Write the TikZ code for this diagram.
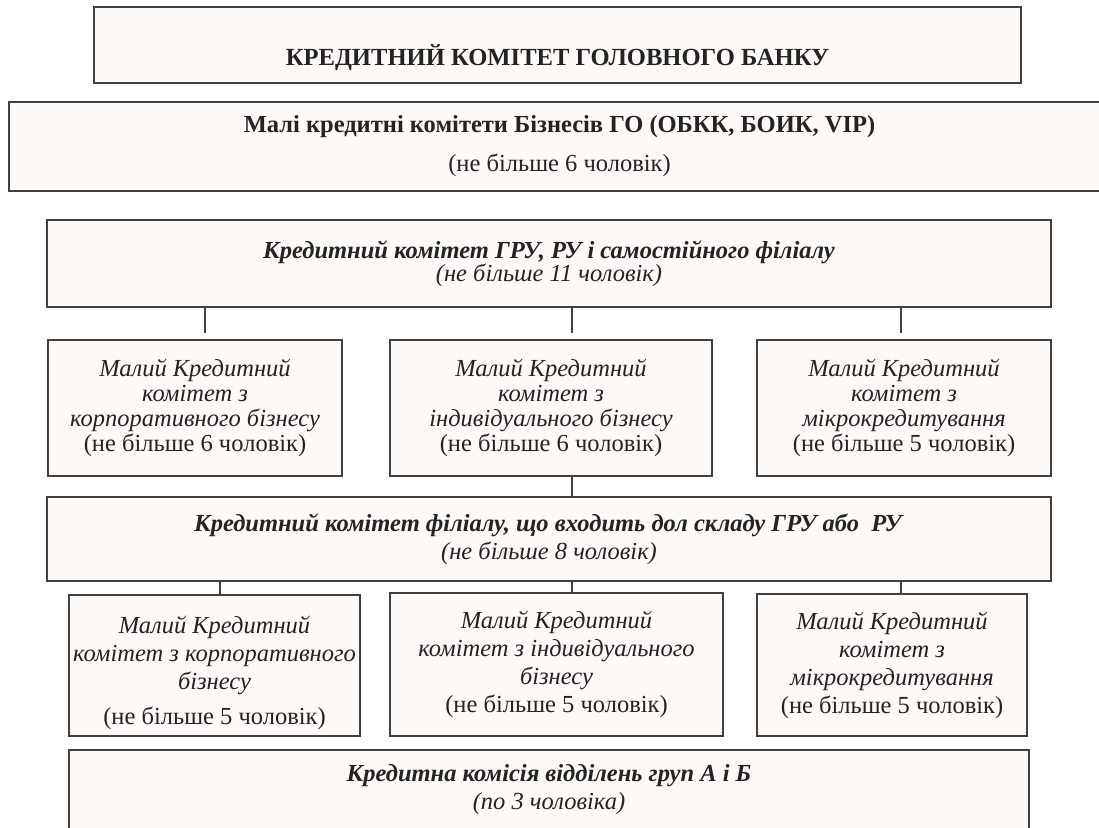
\documentclass[tikz,border=0pt]{standalone}
\usepackage{fontspec}
\setmainfont{Liberation Serif}
\usetikzlibrary{positioning}
\definecolor{boxfill}{RGB}{252,249,246}
\definecolor{edge}{RGB}{64,64,64}
\definecolor{ink}{RGB}{35,35,35}

\begin{document}
\begin{tikzpicture}[
  x=1pt, y=-1pt,
  box/.style={rectangle,draw=edge,fill=boxfill,line width=1.8pt,inner sep=0pt,
    align=center,text=ink,font=\fontsize{24.5}{28}\selectfont},
  txt/.style={align=center,text=ink,inner sep=0pt,font=\fontsize{24.5}{28}\selectfont},
  link/.style={draw=edge,line width=1.8pt}
]
  \useasboundingbox (0,0) rectangle (1099,827);
  \clip (0,0) rectangle (1099,827);

  % Head bank level
  \node[box,minimum width=927pt,minimum height=76pt] (bank) at (557.5,45) {};
  \node[txt,font=\fontsize{24.6}{28}\selectfont\bfseries] (bank-t) at (557.5,58)
    {КРЕДИТНИЙ КОМІТЕТ ГОЛОВНОГО БАНКУ};
  \node[box,minimum width=1101pt,minimum height=89pt] (go) at (559.5,146.5)
    {\textbf{Малі кредитні комітети Бізнесів ГО (ОБКК, БОИК, VIP)}\\[11pt](не більше 6 чоловік)};

  % Regional level
  \node[box,minimum width=1004pt,minimum height=87pt] (gru) at (549,263.5)
    {\textbf{\textit{Кредитний комітет ГРУ, РУ і самостійного філіалу}}\\[-5pt]\textit{(не більше 11 чоловік)}};
  \node[box,minimum width=294pt,minimum height=136pt] (mkA) at (195,408)
    {\textit{Малий Кредитний}\\[-3pt]\textit{комітет з}\\[-3pt]\textit{корпоративного бізнесу}\\[-3pt](не більше 6 чоловік)};
  \node[box,minimum width=322pt,minimum height=136pt] (mkB) at (551,408)
    {\textit{Малий Кредитний}\\[-3pt]\textit{комітет з}\\[-3pt]\textit{індивідуального бізнесу}\\[-3pt](не більше 6 чоловік)};
  \node[box,minimum width=294pt,minimum height=136pt] (mkC) at (904,408)
    {\textit{Малий Кредитний}\\[-3pt]\textit{комітет з}\\[-3pt]\textit{мікрокредитування}\\[-3pt](не більше 5 чоловік)};

  % Branch level
  \node[box,minimum width=1004pt,minimum height=84pt] (fil) at (549,539)
    {\textbf{\textit{Кредитний комітет філіалу, що входить дол складу ГРУ або\ \ РУ}}\\\textit{(не більше 8 чоловік)}};
  \node[box,minimum width=291pt,minimum height=141pt] (mkD) at (214.5,665.5) {};
  \node[txt] (mkD-t) at (214.5,673)
    {\textit{Малий Кредитний}\\\textit{комітет з корпоративного}\\\textit{бізнесу}\\[7pt](не більше 5 чоловік)};
  \node[box,minimum width=333pt,minimum height=143pt] (mkE) at (556.5,664.5)
    {\textit{Малий Кредитний}\\\textit{комітет з індивідуального}\\\textit{бізнесу}\\(не більше 5 чоловік)};
  \node[box,minimum width=270pt,minimum height=142pt] (mkF) at (892,665)
    {\textit{Малий Кредитний}\\\textit{комітет з}\\\textit{мікрокредитування}\\(не більше 5 чоловік)};

  % Departments
  \node[box,minimum width=960pt,minimum height=79pt] (vid) at (549,789.5)
    {\textbf{\textit{Кредитна комісія відділень груп А і Б}}\\\textit{(по 3 чоловіка)}};

  % Links
  \foreach \k/\dx in {mkA/10,mkB/21,mkC/-3}
    \draw[link] ([xshift=\dx pt]\k.north |- gru.south) -- ([xshift=\dx pt,yshift=6pt]\k.north);
  \draw[link] ([xshift=21pt]mkB.south) -- ([xshift=21pt]mkB.south |- fil.north);
  \foreach \k/\dx in {mkD/5.5,mkE/15.5,mkF/9}
    \draw[link] ([xshift=\dx pt]\k.north |- fil.south) -- ([xshift=\dx pt]\k.north);
\end{tikzpicture}
\end{document}
